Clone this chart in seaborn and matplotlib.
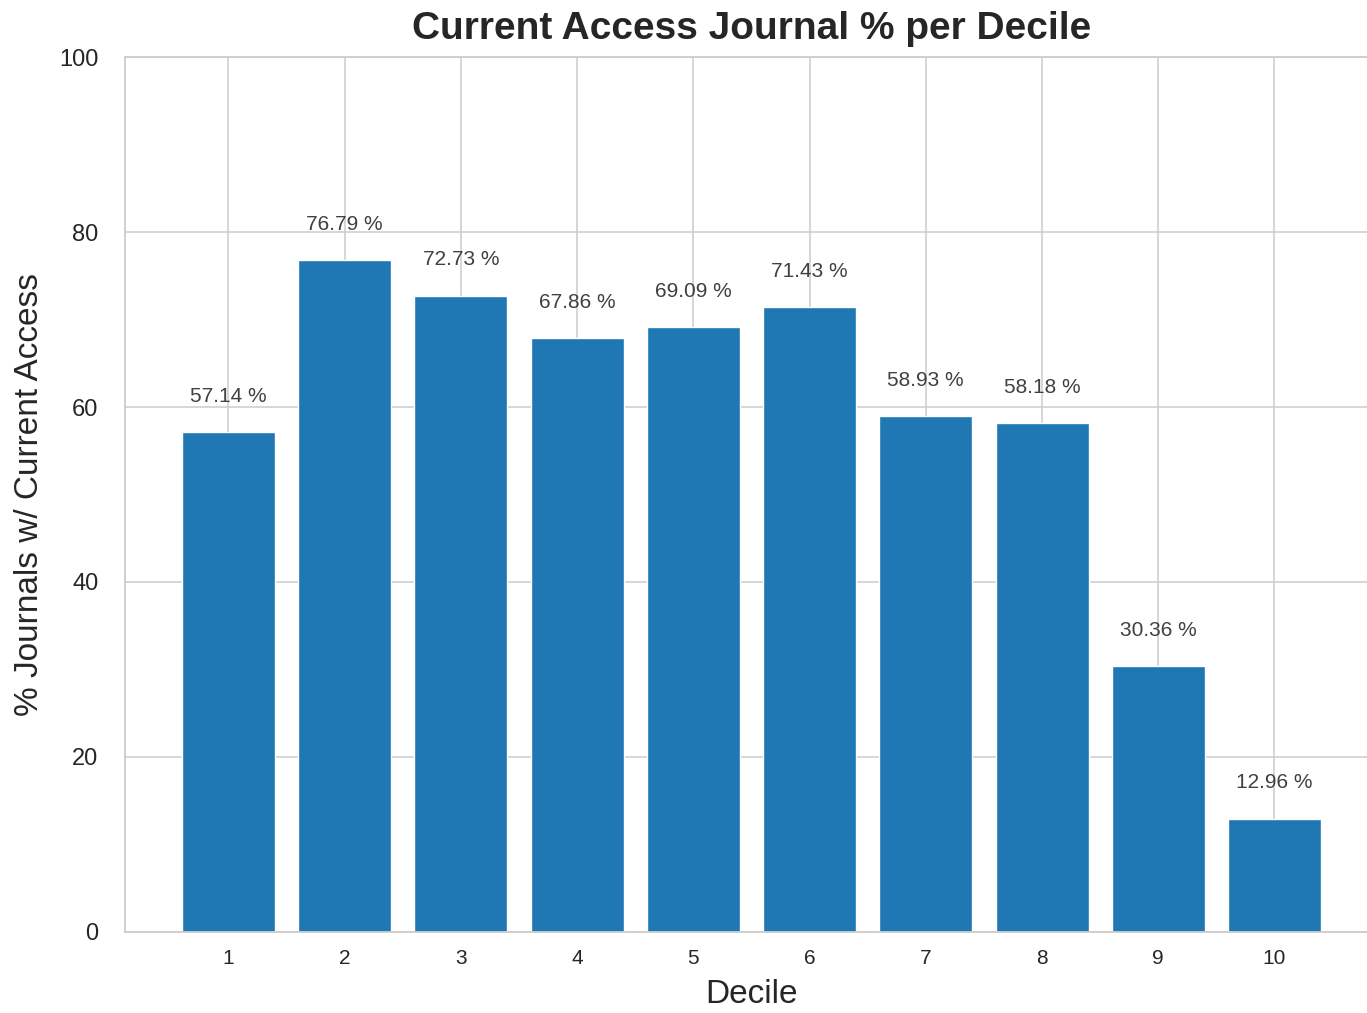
import matplotlib
matplotlib.use("Agg")
import matplotlib.pyplot as plt
import seaborn as sns
import pandas as pd

# Share of journals with current access, by decile
deciles = [1, 2, 3, 4, 5, 6, 7, 8, 9, 10]
pct_current_access = [57.14, 76.79, 72.73, 67.86, 69.09, 71.43, 58.93, 58.18, 30.36, 12.96]
y_ticks = [0, 20, 40, 60, 80, 100]

df = pd.DataFrame({"Decile": deciles, "pct": pct_current_access})

sns.set_theme(style="whitegrid")
plt.rcParams["font.family"] = ["Liberation Sans", "DejaVu Sans"]

fig = plt.figure(figsize=(13.67, 10.13), dpi=100)
ax = fig.add_axes([0.0914, 0.080, 0.9166, 0.8637])

sns.barplot(data=df, x="Decile", y="pct", native_scale=True, color="#1f77b4",
            saturation=1, width=0.8, ax=ax, zorder=2)

for d, v in zip(deciles, pct_current_access):
    ax.text(d, v + 3, f"{v:.2f} %", ha="center", va="bottom",
            fontsize=15, color=".25")

ax.set_xticks(deciles)
ax.set_xticklabels([str(d) for d in deciles])
ax.set_xlim(0.11, 10.89)
ax.set_ylim(0, 100)
ax.set_yticks(y_ticks)
ax.tick_params(axis="x", labelsize=15, pad=6, colors=".15")
ax.tick_params(axis="y", labelsize=17, pad=13, colors=".15")
ax.grid(True, color=".8", linewidth=1.1)
for s in ax.spines.values():
    s.set_color(".8")
    s.set_linewidth(1.3)

ax.set_title("Current Access Journal % per Decile", fontsize=28, fontweight="bold",
             color=".15", pad=13)
ax.set_xlabel("Decile", fontsize=24, color=".15", labelpad=8)
ax.set_ylabel("% Journals w/ Current Access", fontsize=24, color=".15", labelpad=10)

fig.savefig("out.png", dpi=100)
